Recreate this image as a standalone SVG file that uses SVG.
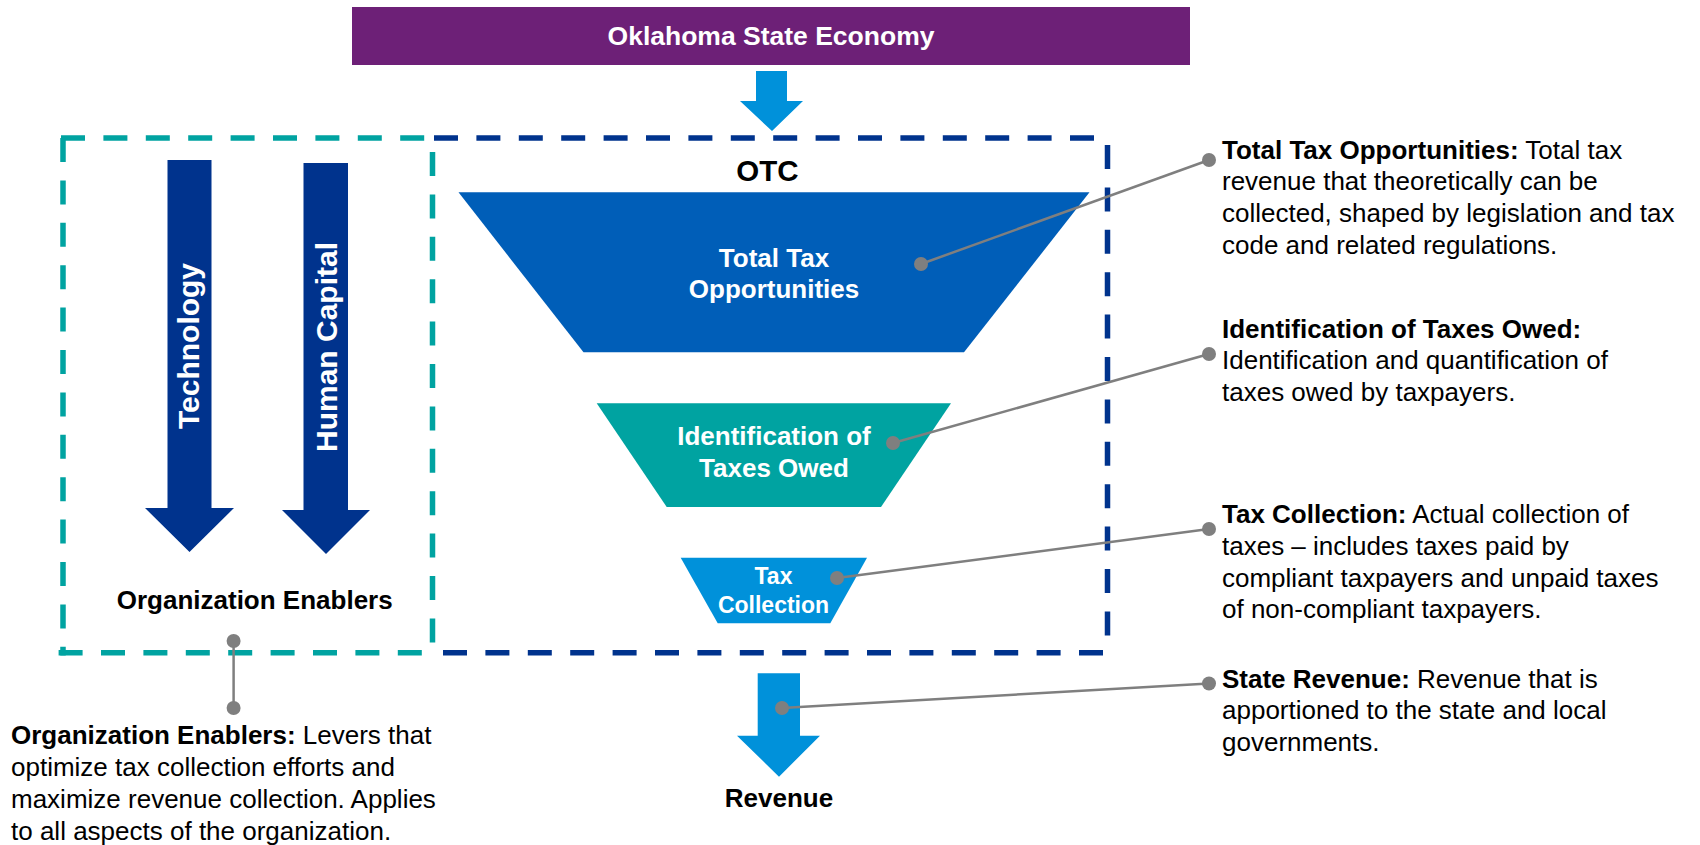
<svg xmlns="http://www.w3.org/2000/svg" width="1700" height="845" viewBox="0 0 1700 845">
  <style>
    text { font-family: "Liberation Sans", Arial, sans-serif; }
    .hdr { font-size: 26.5px; font-weight: bold; fill: #ffffff; }
    .fun { font-size: 26px; font-weight: bold; fill: #ffffff; text-anchor: middle; }
    .fun-s { font-size: 23px; font-weight: bold; fill: #ffffff; text-anchor: middle; }
    .vert { font-size: 30px; font-weight: bold; fill: #ffffff; text-anchor: middle; }
    .lbl { font-size: 26px; font-weight: bold; fill: #000000; text-anchor: middle; }
    .otc { font-size: 29.5px; font-weight: bold; fill: #000000; text-anchor: middle; }
    .note { font-size: 26px; fill: #000000; }
    .note .b { font-weight: bold; }
    .dash-teal { stroke: #00A3A1; stroke-width: 5.5; stroke-dasharray: 24 18.4; fill: none; }
    .dash-blue { stroke: #00338D; stroke-width: 5.5; stroke-dasharray: 24 18.4; fill: none; }
    .lead { stroke: #7F7F7F; stroke-width: 2.5; fill: none; }
    .dot { fill: #7F7F7F; }
  </style>

  <!-- top: state economy banner and inflow arrow -->
  <g id="economy">
    <rect x="352" y="7" width="838" height="58" fill="#6D2077"/>
    <text class="hdr" x="771" y="44.5" text-anchor="middle">Oklahoma State Economy</text>
  </g>
  <g id="inflow-arrow">
    <polygon points="756,71 787,71 787,101 803,101 772,131 740,101 756,101" fill="#0091DA"/>
  </g>

  <!-- dashed boundaries: enablers (teal) and OTC (blue) -->
  <g id="enablers-frame">
    <line class="dash-teal" x1="61" y1="138" x2="430" y2="138"/>
    <line class="dash-teal" x1="63" y1="138" x2="63" y2="655.5"/>
    <line class="dash-teal" x1="432.5" y1="152" x2="432.5" y2="645"/>
    <line class="dash-teal" x1="58.6" y1="652.7" x2="428" y2="652.7"/>
  </g>
  <g id="otc-frame">
    <line class="dash-blue" x1="434" y1="138" x2="1100" y2="138"/>
    <line class="dash-blue" x1="1107.5" y1="145" x2="1107.5" y2="640"/>
    <line class="dash-blue" x1="443" y1="652.7" x2="1106" y2="652.7"/>
    <text class="otc" x="767.5" y="180.7">OTC</text>
  </g>

  <!-- organization enablers -->
  <g id="technology">
    <polygon points="167.5,160 211.5,160 211.5,508 234,508 189.5,552 145,508 167.5,508" fill="#00338D"/>
    <text class="vert" transform="translate(199 346) rotate(-90)">Technology</text>
  </g>
  <g id="human-capital">
    <polygon points="303.5,163 348,163 348,510 370,510 326,554 282,510 303.5,510" fill="#00338D"/>
    <text class="vert" transform="translate(336.5 347) rotate(-90)">Human Capital</text>
  </g>
  <g id="enablers-label">
    <text class="lbl" x="254.7" y="609.3">Organization Enablers</text>
  </g>

  <!-- funnel stages -->
  <g id="total-tax">
    <polygon points="458.5,192.3 1089.5,192.3 964,352.3 583.5,352.3" fill="#005EB8"/>
    <text class="fun" x="774" y="266.7">Total Tax</text>
    <text class="fun" x="774" y="297.7">Opportunities</text>
  </g>
  <g id="taxes-owed">
    <polygon points="596.7,403.3 951,403.3 881,507 666.7,507" fill="#00A3A1"/>
    <text class="fun" x="774" y="445">Identification of</text>
    <text class="fun" x="774" y="476.7">Taxes Owed</text>
  </g>
  <g id="tax-collection">
    <polygon points="680.7,557.7 867,557.7 830.3,623.3 717.7,623.3" fill="#0091DA"/>
    <text class="fun-s" x="773.5" y="584">Tax</text>
    <text class="fun-s" x="773.5" y="613.3">Collection</text>
  </g>

  <!-- outflow arrow -->
  <g id="revenue">
    <polygon points="757.7,673.3 800,673.3 800,735.7 820,735.7 779,776.7 737,735.7 757.7,735.7" fill="#0091DA"/>
    <text class="lbl" x="779" y="806.7">Revenue</text>
  </g>

  <!-- callout leaders -->
  <g id="connectors">
    <line class="lead" x1="921" y1="264" x2="1209" y2="160"/>
    <circle class="dot" cx="921" cy="264" r="7"/>
    <circle class="dot" cx="1209" cy="160" r="7"/>

    <line class="lead" x1="893" y1="443" x2="1209" y2="354"/>
    <circle class="dot" cx="893" cy="443" r="7"/>
    <circle class="dot" cx="1209" cy="354" r="7"/>

    <line class="lead" x1="837" y1="578" x2="1209" y2="529"/>
    <circle class="dot" cx="837" cy="578" r="7"/>
    <circle class="dot" cx="1209" cy="529" r="7"/>

    <line class="lead" x1="782" y1="708" x2="1209" y2="683.5"/>
    <circle class="dot" cx="782" cy="708" r="7"/>
    <circle class="dot" cx="1209" cy="683.5" r="7"/>

    <line class="lead" x1="233.6" y1="641" x2="233.6" y2="708"/>
    <circle class="dot" cx="233.6" cy="641" r="7"/>
    <circle class="dot" cx="233.6" cy="708" r="7"/>
  </g>

  <!-- descriptions -->
  <g id="note-total-tax">
    <text class="note" x="1222" y="158.5"><tspan class="b">Total Tax Opportunities:</tspan> Total tax</text>
    <text class="note" x="1222" y="190.2">revenue that theoretically can be</text>
    <text class="note" x="1222" y="221.9">collected, shaped by legislation and tax</text>
    <text class="note" x="1222" y="253.6">code and related regulations.</text>
  </g>
  <g id="note-taxes-owed">
    <text class="note" x="1222" y="337.5"><tspan class="b">Identification of Taxes Owed:</tspan></text>
    <text class="note" x="1222" y="369.3">Identification and quantification of</text>
    <text class="note" x="1222" y="401">taxes owed by taxpayers.</text>
  </g>
  <g id="note-tax-collection">
    <text class="note" x="1222" y="522.7"><tspan class="b">Tax Collection:</tspan> Actual collection of</text>
    <text class="note" x="1222" y="554.6">taxes – includes taxes paid by</text>
    <text class="note" x="1222" y="586.5">compliant taxpayers and unpaid taxes</text>
    <text class="note" x="1222" y="618.3">of non-compliant taxpayers.</text>
  </g>
  <g id="note-state-revenue">
    <text class="note" x="1222" y="687.7"><tspan class="b">State Revenue:</tspan> Revenue that is</text>
    <text class="note" x="1222" y="719.4">apportioned to the state and local</text>
    <text class="note" x="1222" y="751">governments.</text>
  </g>
  <g id="note-enablers">
    <text class="note" x="11" y="744.3"><tspan class="b">Organization Enablers:</tspan> Levers that</text>
    <text class="note" x="11" y="776.3">optimize tax collection efforts and</text>
    <text class="note" x="11" y="808.2">maximize revenue collection. Applies</text>
    <text class="note" x="11" y="840">to all aspects of the organization.</text>
  </g>
</svg>
